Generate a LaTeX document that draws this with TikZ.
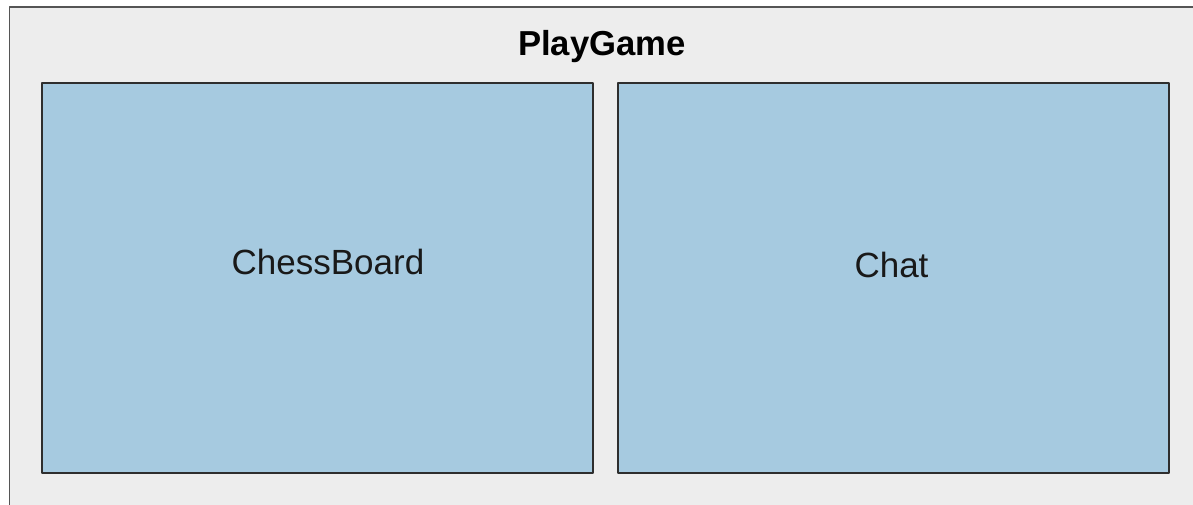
\documentclass[tikz,border=0pt]{standalone}
\usepackage{fontspec}
\setmainfont{Liberation Sans}
\definecolor{pgbg}{HTML}{EDEDED}
\definecolor{pgframe}{HTML}{555555}
\definecolor{panelfill}{HTML}{A6CAE0}
\definecolor{panelline}{HTML}{2E2E2E}
\tikzset{
    panel/.style={draw=panelline, fill=panelfill, line width=0.9pt,
        minimum width=413.25pt, minimum height=292.5pt, inner sep=0pt},
    paneltext/.style={anchor=base, font=\fontsize{26.25}{30}\selectfont, text=black!90, inner sep=0pt},
    titletext/.style={anchor=base, font=\bfseries\fontsize{26}{30}\selectfont, text=black, inner sep=0pt}
}
\begin{document}
\begin{tikzpicture}[x=0.75pt,y=-0.75pt,line join=round]
    \useasboundingbox (0,0) rectangle (1193,504);
    \clip (0,0) rectangle (1193,504);

    % outer container
    \draw[fill=pgbg, draw=pgframe, line width=1.3pt] (9.5,7) rectangle (1210,520);
    \node[titletext] (playgame) at (602,55) {PlayGame};

    % the two panels
    \node[panel] (chessboard) at (317.5,278) {};
    \node[panel] (chat) at (893.5,278) {};

    \node[paneltext] (chessboardlabel) at (328,274) {ChessBoard};
    \node[paneltext] (chatlabel) at (891.5,277) {Chat};
\end{tikzpicture}
\end{document}
